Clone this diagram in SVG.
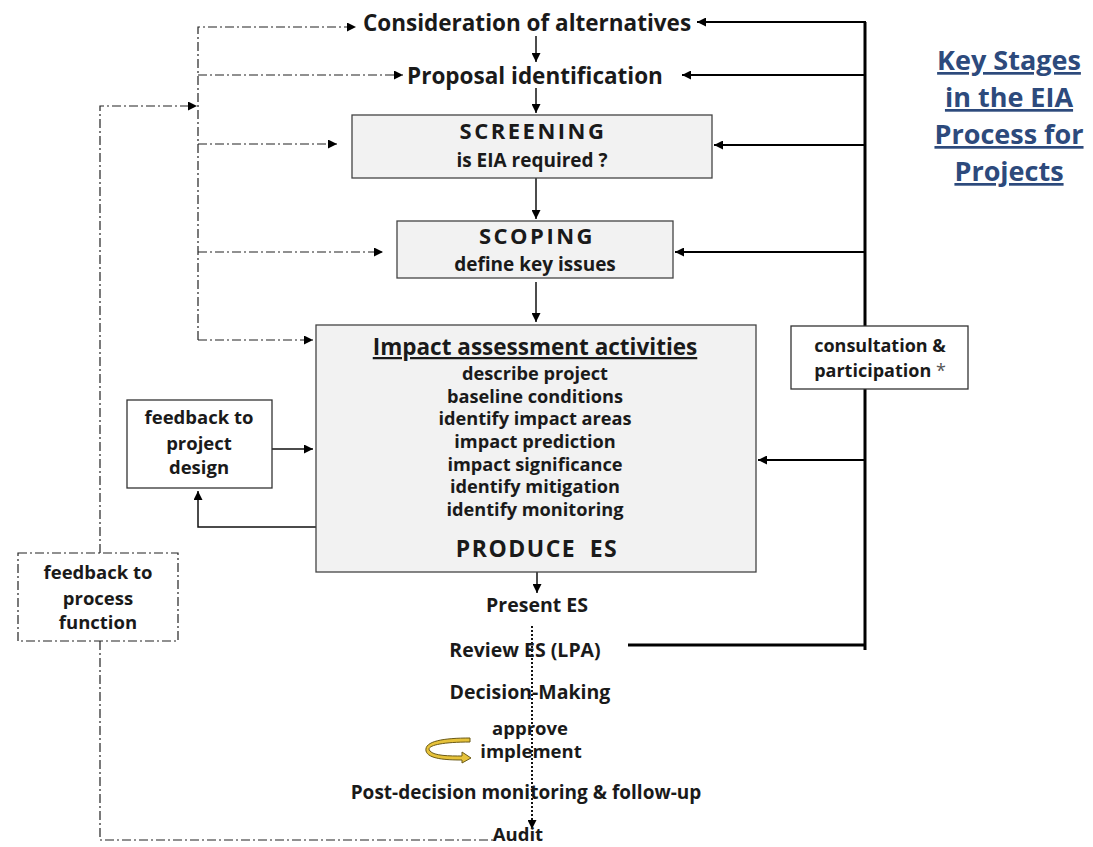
<svg xmlns="http://www.w3.org/2000/svg" width="1093" height="847" viewBox="0 0 1093 847">
<defs>
<style>
.t{font-family:"Open Sans",Lato,"DejaVu Sans",sans-serif;font-weight:bold;fill:#1a1a1a;text-anchor:middle}
.box{fill:#f2f2f2;stroke:#444;stroke-width:1.3}
.wbox{fill:#fff;stroke:#333;stroke-width:1.3}
.dd{fill:none;stroke:#222;stroke-width:1.2;stroke-dasharray:9 3 2 3}
.solid{fill:none;stroke:#111;stroke-width:1.5}
.thick{fill:none;stroke:#000;stroke-width:3}
.mid{fill:none;stroke:#000;stroke-width:2.2}
.dot{fill:none;stroke:#111;stroke-width:2;stroke-dasharray:2 2}
.title{font-family:"Open Sans",Lato,sans-serif;font-weight:bold;fill:#2d4a7c;text-anchor:middle;font-size:27px;text-decoration:underline}
.il{font-size:18.2px}
</style>
<marker id="ah" viewBox="0 0 10 10" refX="10" refY="5" markerWidth="9" markerHeight="9" markerUnits="userSpaceOnUse" orient="auto">
<path d="M0,0 L10,5 L0,10 z" fill="#000"/>
</marker>
</defs>
<rect width="1093" height="847" fill="#fff"/>

<g id="connectors">
<path class="dd" d="M198,340 V27 H356" marker-end="url(#ah)"/>
<path class="dd" d="M198,75 H403" marker-end="url(#ah)"/>
<path class="dd" d="M198,144 H337" marker-end="url(#ah)"/>
<path class="dd" d="M198,252 H383" marker-end="url(#ah)"/>
<path class="dd" d="M198,340 H313" marker-end="url(#ah)"/>
<path class="dd" d="M100,553 V106 H197" marker-end="url(#ah)"/>
<path class="dd" d="M100,641 V840 H495"/>
<path class="solid" d="M536,36 V62" marker-end="url(#ah)"/>
<path class="solid" d="M536,88 V113" marker-end="url(#ah)"/>
<path class="solid" d="M536,178 V219" marker-end="url(#ah)"/>
<path class="solid" d="M536,282 V322" marker-end="url(#ah)"/>
<path class="solid" d="M537,572 V593" marker-end="url(#ah)"/>
<path class="solid" d="M272,449 H313" marker-end="url(#ah)"/>
<path class="solid" d="M316,527 H198 V491" marker-end="url(#ah)"/>
<path class="dot" d="M532,626 V829" marker-end="url(#ah)"/>
<path class="thick" d="M865,22 V326 M865,389 V650"/>
<path class="mid" d="M866,22 H697" marker-end="url(#ah)"/>
<path class="mid" d="M866,75 H682" marker-end="url(#ah)"/>
<path class="mid" d="M866,145 H714" marker-end="url(#ah)"/>
<path class="mid" d="M866,252 H675" marker-end="url(#ah)"/>
<path class="mid" d="M866,460 H758" marker-end="url(#ah)"/>
<path class="thick" d="M628,645 H866"/>
</g>

<g id="n-alternatives"><text class="t" x="527" y="31" font-size="22.5">Consideration of alternatives</text></g>
<g id="n-proposal"><text class="t" x="535" y="84" font-size="22.5">Proposal identification</text></g>

<g id="n-screening">
<rect class="box" x="352" y="115" width="360" height="63"/>
<text class="t" x="533" y="139" font-size="22" letter-spacing="2.5">SCREENING</text>
<text class="t" x="532" y="167" font-size="19">is EIA required ?</text>
</g>

<g id="n-scoping">
<rect class="box" x="397" y="221" width="276" height="57"/>
<text class="t" x="537" y="244" font-size="22" letter-spacing="2.5">SCOPING</text>
<text class="t" x="535" y="271" font-size="19">define key issues</text>
</g>

<g id="n-impact">
<rect class="box" x="316" y="325" width="440" height="247"/>
<text class="t" x="535" y="355" font-size="22.5" text-decoration="underline">Impact assessment activities</text>
<text class="t il" x="535" y="380">describe project</text>
<text class="t il" x="535" y="402.7">baseline conditions</text>
<text class="t il" x="535" y="425.3">identify impact areas</text>
<text class="t il" x="535" y="448">impact prediction</text>
<text class="t il" x="535" y="470.7">impact significance</text>
<text class="t il" x="535" y="493.3">identify mitigation</text>
<text class="t il" x="535" y="516">identify monitoring</text>
<text class="t" x="537" y="557" font-size="23" letter-spacing="1.5" word-spacing="6">PRODUCE ES</text>
</g>

<g id="n-project-design">
<rect class="wbox" x="127" y="400" width="145" height="88"/>
<text class="t" x="199" y="424" font-size="18.5">feedback to</text>
<text class="t" x="199" y="450" font-size="18.5">project</text>
<text class="t" x="199" y="474" font-size="18.5">design</text>
</g>

<g id="n-process-function">
<rect x="18" y="553" width="160" height="88" fill="#fff" stroke="#222" stroke-width="1.2" stroke-dasharray="9 3 2 3"/>
<text class="t" x="98" y="579" font-size="18.5">feedback to</text>
<text class="t" x="98" y="605" font-size="18.5">process</text>
<text class="t" x="98" y="629" font-size="18.5">function</text>
</g>

<g id="n-consultation">
<rect class="wbox" x="791" y="326" width="177" height="63"/>
<text class="t" x="880" y="352" font-size="18">consultation &amp;</text>
<text class="t" x="880" y="377" font-size="18">participation <tspan font-weight="normal" fill="#555">*</tspan></text>
</g>

<g id="n-present"><text class="t" x="537" y="612" font-size="19.5">Present ES</text></g>
<g id="n-review"><text class="t" x="525" y="657" font-size="19.5">Review ES (LPA)</text></g>
<g id="n-decision"><text class="t" x="530" y="699" font-size="19.5">Decision-Making</text></g>
<g id="n-approve">
<text class="t" x="530" y="735" font-size="18.5">approve</text>
<text class="t" x="531" y="758" font-size="18.5">implement</text>
<path d="M470,742 C440,742 425,746 430,751 C434,756 450,756 462,756 L462,752 L471,758 L462,763 L462,760 C446,760 428,759 426,751 C424,741 444,738 470,738 Z" fill="#e6c23a" stroke="#6b5a16" stroke-width="1"/>
</g>
<g id="n-post"><text class="t" x="526" y="799" font-size="19">Post-decision monitoring &amp; follow-up</text></g>
<g id="n-audit"><text class="t" x="518" y="841" font-size="18.5">Audit</text></g>

<g id="title">
<text class="title" x="1009" y="70">Key Stages</text>
<text class="title" x="1009" y="107">in the EIA</text>
<text class="title" x="1009" y="144">Process for</text>
<text class="title" x="1009" y="181">Projects</text>
</g>
</svg>
